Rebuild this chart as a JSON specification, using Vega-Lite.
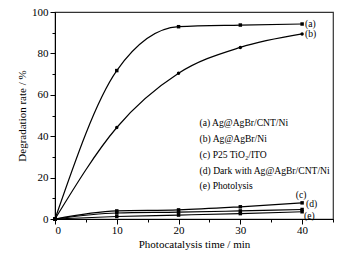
{
  "$schema": "https://vega.github.io/schema/vega-lite/v6.json",
  "width": 278,
  "height": 207,
  "autosize": {"type": "none"},
  "padding": {"left": 55, "top": 12, "right": 19, "bottom": 34},
  "background": "white",
  "config": {
    "font": "Liberation Serif",
    "view": {"stroke": "#333", "strokeWidth": 1.2},
    "axis": {
      "grid": false,
      "domainColor": "black",
      "tickColor": "black",
      "labelColor": "black",
      "titleColor": "black",
      "labelFont": "Liberation Serif",
      "titleFont": "Liberation Serif",
      "labelFontSize": 11,
      "titleFontSize": 11,
      "titleFontWeight": "normal"
    }
  },
  "data": {
    "values": [
      {"name": "(a) Ag@AgBr/CNT/Ni", "tag": "(a)", "time": 0, "rate": 0},
      {"name": "(a) Ag@AgBr/CNT/Ni", "tag": "(a)", "time": 10, "rate": 71.7},
      {"name": "(a) Ag@AgBr/CNT/Ni", "tag": "(a)", "time": 20, "rate": 92.9},
      {"name": "(a) Ag@AgBr/CNT/Ni", "tag": "(a)", "time": 30, "rate": 93.7},
      {"name": "(a) Ag@AgBr/CNT/Ni", "tag": "(a)", "time": 40, "rate": 94.2},
      {"name": "(b) Ag@AgBr/Ni", "tag": "(b)", "time": 0, "rate": 0},
      {"name": "(b) Ag@AgBr/Ni", "tag": "(b)", "time": 10, "rate": 44.2},
      {"name": "(b) Ag@AgBr/Ni", "tag": "(b)", "time": 20, "rate": 70.4},
      {"name": "(b) Ag@AgBr/Ni", "tag": "(b)", "time": 30, "rate": 82.9},
      {"name": "(b) Ag@AgBr/Ni", "tag": "(b)", "time": 40, "rate": 89.4},
      {"name": "(c) P25 TiO₂/ITO", "tag": "(c)", "time": 0, "rate": 0},
      {"name": "(c) P25 TiO₂/ITO", "tag": "(c)", "time": 10, "rate": 3.9},
      {"name": "(c) P25 TiO₂/ITO", "tag": "(c)", "time": 20, "rate": 4.4},
      {"name": "(c) P25 TiO₂/ITO", "tag": "(c)", "time": 30, "rate": 5.9},
      {"name": "(c) P25 TiO₂/ITO", "tag": "(c)", "time": 40, "rate": 7.8},
      {"name": "(d) Dark with Ag@AgBr/CNT/Ni", "tag": "(d)", "time": 0, "rate": 0},
      {"name": "(d) Dark with Ag@AgBr/CNT/Ni", "tag": "(d)", "time": 10, "rate": 2.9},
      {"name": "(d) Dark with Ag@AgBr/CNT/Ni", "tag": "(d)", "time": 20, "rate": 3.3},
      {"name": "(d) Dark with Ag@AgBr/CNT/Ni", "tag": "(d)", "time": 30, "rate": 3.9},
      {"name": "(d) Dark with Ag@AgBr/CNT/Ni", "tag": "(d)", "time": 40, "rate": 4.6},
      {"name": "(e) Photolysis", "tag": "(e)", "time": 0, "rate": 0},
      {"name": "(e) Photolysis", "tag": "(e)", "time": 10, "rate": 1.2},
      {"name": "(e) Photolysis", "tag": "(e)", "time": 20, "rate": 1.9},
      {"name": "(e) Photolysis", "tag": "(e)", "time": 30, "rate": 2.6},
      {"name": "(e) Photolysis", "tag": "(e)", "time": 40, "rate": 3.5}
    ]
  },
  "encoding": {
    "x": {
      "field": "time",
      "type": "quantitative",
      "scale": {"domain": [0, 45], "nice": false, "zero": false},
      "axis": {
        "title": "Photocatalysis time / min",
        "values": [0, 5, 10, 15, 20, 25, 30, 35, 40, 45],
        "labelExpr": "datum.value % 10 === 0 ? datum.label : ''",
        "tickSize": {"condition": {"test": "datum.value % 10 === 0", "value": 5}, "value": 3},
        "labelPadding": 0,
        "titlePadding": 3
      }
    },
    "y": {
      "field": "rate",
      "type": "quantitative",
      "scale": {"domain": [0, 100], "nice": false},
      "axis": {
        "title": "Degradation rate / %",
        "values": [0, 10, 20, 30, 40, 50, 60, 70, 80, 90, 100],
        "labelExpr": "datum.value % 20 === 0 ? datum.label : ''",
        "tickSize": {"condition": {"test": "datum.value % 20 === 0", "value": 5}, "value": 3},
        "labelPadding": 2,
        "titlePadding": 4
      }
    }
  },
  "layer": [
    {
      "mark": {"type": "line", "interpolate": "monotone", "strokeWidth": 1.2},
      "encoding": {
        "color": {
          "field": "name",
          "type": "nominal",
          "sort": null,
          "scale": {"range": ["black", "black", "black", "black", "black"]},
          "legend": {
            "title": null,
            "orient": "none",
            "legendX": 131,
            "legendY": 106,
            "symbolOpacity": 0,
            "symbolStrokeWidth": 0,
            "symbolSize": 1,
            "labelFont": "Liberation Serif",
            "labelFontSize": 9.6,
            "labelColor": "black",
            "labelLimit": 300,
            "rowPadding": 4.9
          }
        }
      }
    },
    {
      "mark": {"type": "point", "filled": true, "color": "black", "size": 12, "opacity": 1},
      "encoding": {
        "shape": {
          "field": "tag",
          "type": "nominal",
          "scale": {"domain": ["(a)", "(b)", "(c)", "(d)", "(e)"], "range": ["square", "circle", "square", "square", "square"]},
          "legend": null
        }
      }
    },
    {
      "transform": [{"filter": "datum.time === 40 && (datum.tag === '(a)' || datum.tag === '(b)')"}],
      "mark": {"type": "text", "align": "left", "baseline": "middle", "dx": 3, "fontSize": 9.6, "font": "Liberation Serif", "color": "black"},
      "encoding": {"text": {"field": "tag"}}
    },
    {
      "transform": [{"filter": "datum.time === 40 && datum.tag === '(c)'"}],
      "mark": {"type": "text", "align": "center", "baseline": "middle", "dx": -1, "dy": -8, "fontSize": 9.6, "font": "Liberation Serif", "color": "black"},
      "encoding": {"text": {"field": "tag"}}
    },
    {
      "transform": [{"filter": "datum.time === 40 && datum.tag === '(d)'"}],
      "mark": {"type": "text", "align": "left", "baseline": "middle", "dx": 4, "dy": -5, "fontSize": 9.6, "font": "Liberation Serif", "color": "black"},
      "encoding": {"text": {"field": "tag"}}
    },
    {
      "transform": [{"filter": "datum.time === 40 && datum.tag === '(e)'"}],
      "mark": {"type": "text", "align": "left", "baseline": "middle", "dx": 2, "dy": 4, "fontSize": 9.6, "font": "Liberation Serif", "color": "black"},
      "encoding": {"text": {"field": "tag"}}
    }
  ]
}
